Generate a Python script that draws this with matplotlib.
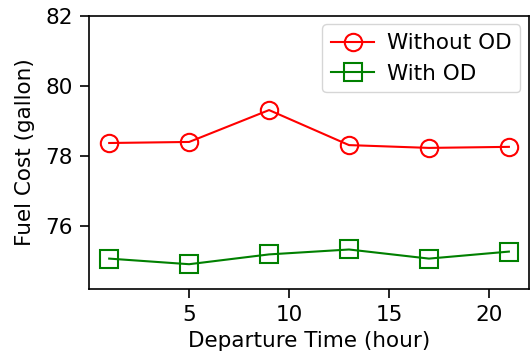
import matplotlib.pyplot as plt

# Datos
hours = [1, 5, 9, 13, 17, 21]
without_od = [78.37, 78.40, 79.31, 78.31, 78.23, 78.26]
with_od = [75.07, 74.91, 75.19, 75.33, 75.07, 75.27]

fig = plt.figure(figsize=(5.31, 3.6), dpi=100)
ax = fig.add_axes([0.168, 0.197, 0.828, 0.759])

ax.plot(hours, without_od, 'o-', color='red', markersize=12.5, markerfacecolor='none',
        markeredgewidth=1.5, linewidth=1.5, label='Without OD')
ax.plot(hours, with_od, 's-', color='green', markersize=12.5, markerfacecolor='none',
        markeredgewidth=1.5, linewidth=1.5, label='With OD')

ax.set_xlim(0, 22)
ax.set_ylim(74.2, 82)
ax.set_xticks([5, 10, 15, 20])
ax.set_yticks([76, 78, 80, 82])
for s in ax.spines.values():
    s.set_linewidth(1.2)
ax.tick_params(labelsize=15.5, length=6.5, width=1.2, pad=5)
ax.set_xlabel('Departure Time (hour)', fontsize=15.5, labelpad=4)
ax.set_ylabel('Fuel Cost (gallon)', fontsize=15.5, labelpad=8)
ax.legend(loc='upper right', fontsize=15.5, borderaxespad=0.4, handletextpad=0.6)

fig.savefig('out.png', dpi=100)
